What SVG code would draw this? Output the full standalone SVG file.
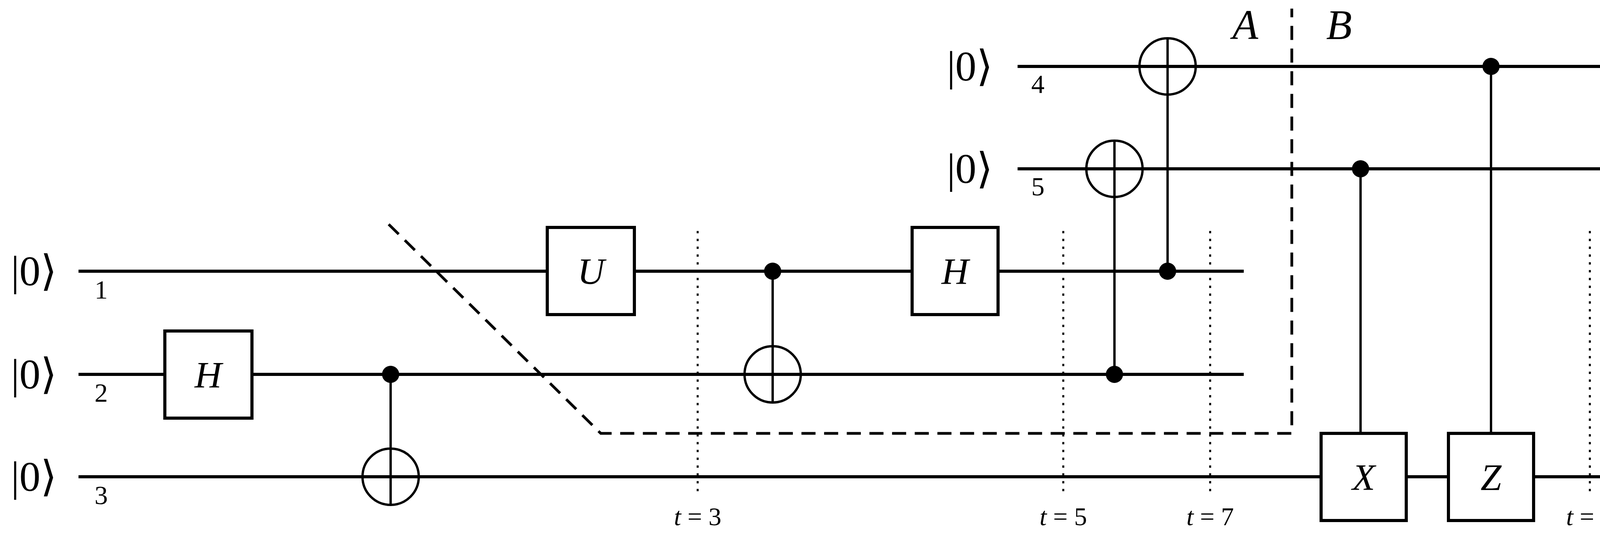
<svg xmlns="http://www.w3.org/2000/svg" width="4368" height="1410" viewBox="0 0 4368 1410">
<style>
.w{stroke:#000;stroke-width:8;fill:none}
.g{fill:#fff;stroke:#000;stroke-width:8}
.c{stroke:#000;stroke-width:6;fill:none}
.t{font-family:"Liberation Serif","DejaVu Serif",serif;fill:#000}
.k{font-size:108px}
.n{font-size:68px}
.i{font-style:italic}
.gl{font-size:96px;font-style:italic;text-anchor:middle}
.tl{font-size:66px}
.dot{stroke:#000;stroke-width:5;stroke-dasharray:6 14;fill:none}
</style>
<g id="wires">
<line class="w" x1="201" y1="694" x2="3184" y2="694"/>
<line class="w" x1="201" y1="958" x2="3184" y2="958"/>
<line class="w" x1="201" y1="1220" x2="4151" y2="1220"/>
<line class="w" x1="2605" y1="170" x2="4151" y2="170"/>
<line class="w" x1="2605" y1="432" x2="4151" y2="432"/>
</g>
<g id="labels" class="t">
<text class="k" x="28" y="730">|0⟩</text>
<text class="k" x="28" y="994">|0⟩</text>
<text class="k" x="28" y="1256">|0⟩</text>
<text class="k" x="2424" y="206">|0⟩</text>
<text class="k" x="2424" y="468">|0⟩</text>
<text class="k i" x="4190" y="1256">|ψ⟩</text>
<text class="n" x="242" y="764">1</text>
<text class="n" x="242" y="1028">2</text>
<text class="n" x="242" y="1290">3</text>
<text class="n" x="2640" y="238">4</text>
<text class="n" x="2640" y="500">5</text>
<text class="k i" x="3155" y="100">A</text>
<text class="k i" x="3395" y="100">B</text>
</g>
<g id="timelines">
<line class="dot" x1="1786" y1="591" x2="1786" y2="1259"/>
<line class="dot" x1="2722" y1="591" x2="2722" y2="1259"/>
<line class="dot" x1="3098" y1="591" x2="3098" y2="1259"/>
<line class="dot" x1="4070" y1="591" x2="4070" y2="1259"/>
<text class="t tl" x="1786" y="1344" text-anchor="middle"><tspan font-style="italic">t</tspan> = 3</text>
<text class="t tl" x="2722" y="1344" text-anchor="middle"><tspan font-style="italic">t</tspan> = 5</text>
<text class="t tl" x="3098" y="1344" text-anchor="middle"><tspan font-style="italic">t</tspan> = 7</text>
<text class="t tl" x="4070" y="1344" text-anchor="middle"><tspan font-style="italic">t</tspan> = 9</text>
</g>
<g id="cut">
<polyline points="995,574 1538,1109 3307,1109 3307,22" fill="none" stroke="#000" stroke-width="7" stroke-dasharray="36 22"/>
</g>
<g id="connectors">
<line class="c" x1="1000" y1="958" x2="1000" y2="1220"/>
<line class="c" x1="1978" y1="694" x2="1978" y2="958"/>
<line class="c" x1="2853" y1="958" x2="2853" y2="432"/>
<line class="c" x1="2989" y1="694" x2="2989" y2="170"/>
<line class="c" x1="3483" y1="432" x2="3483" y2="1109"/>
<line class="c" x1="3817" y1="170" x2="3817" y2="1109"/>
</g>
<g id="h1"><rect class="g" x="422" y="847" width="223" height="223"/><text class="t gl" x="533" y="992">H</text></g>
<g id="cnot1"><circle cx="1000" cy="958" r="22"/><circle class="c" cx="1000" cy="1220" r="72" fill="none"/><line class="c" x1="928" y1="1220" x2="1072" y2="1220"/><line class="c" x1="1000" y1="1148" x2="1000" y2="1292"/></g>
<g id="u"><rect class="g" x="1401" y="582" width="223" height="223"/><text class="t gl" x="1513" y="727">U</text></g>
<g id="cnot2"><circle cx="1978" cy="694" r="22"/><circle class="c" cx="1978" cy="958" r="72"/><line class="c" x1="1906" y1="958" x2="2050" y2="958"/><line class="c" x1="1978" y1="886" x2="1978" y2="1030"/></g>
<g id="h2"><rect class="g" x="2335" y="582" width="220" height="223"/><text class="t gl" x="2445" y="727">H</text></g>
<g id="cnot3"><circle cx="2853" cy="958" r="22"/><circle class="c" cx="2853" cy="432" r="72"/><line class="c" x1="2781" y1="432" x2="2925" y2="432"/><line class="c" x1="2853" y1="360" x2="2853" y2="504"/></g>
<g id="cnot4"><circle cx="2989" cy="694" r="22"/><circle class="c" cx="2989" cy="170" r="72"/><line class="c" x1="2917" y1="170" x2="3061" y2="170"/><line class="c" x1="2989" y1="98" x2="2989" y2="242"/></g>
<g id="cx"><circle cx="3483" cy="432" r="22"/><rect class="g" x="3382" y="1109" width="218" height="223"/><text class="t gl" x="3491" y="1254">X</text></g>
<g id="cz"><circle cx="3817" cy="170" r="22"/><rect class="g" x="3708" y="1109" width="218" height="223"/><text class="t gl" x="3817" y="1254">Z</text></g>
</svg>
